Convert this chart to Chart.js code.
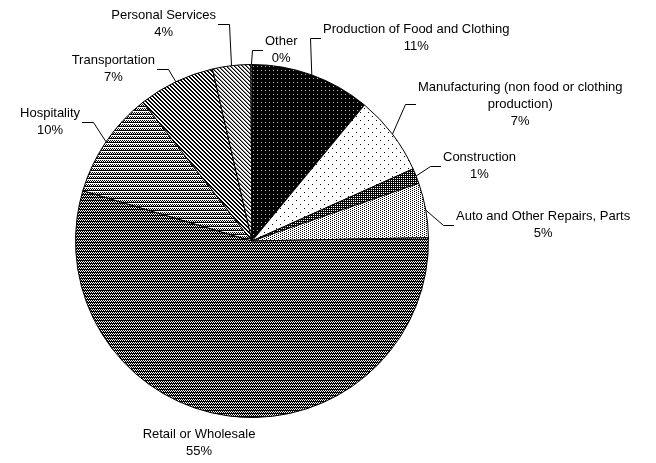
<!DOCTYPE html>
<html>
<head>
<meta charset="utf-8">
<script src="https://cdn.jsdelivr.net/npm/chart.js@4.4.0/dist/chart.umd.min.js"></script>
<style>
  html, body { margin: 0; padding: 0; background: #fff; }
  #wrap { width: 656px; height: 463px; }
</style>
</head>
<body>
<div id="wrap"><canvas id="pieChart" width="656" height="463"></canvas></div>
<script>
// Slices, clockwise from 12 o'clock
const categories = [
  "Production of Food and Clothing",
  ["Manufacturing (non food or clothing", "production)"],
  "Construction",
  "Auto and Other Repairs, Parts",
  "Retail or Wholesale",
  "Hospitality",
  "Transportation",
  "Personal Services",
  "Other",
];
const shares = [11.0, 7.3, 1.4, 5.0, 54.9, 9.8, 7.0, 3.5, 0.1];

// Fill tiles, one string per pixel row: # black, + grey, o light grey, . white
const tiles = [
  ["####", "####", "#o##", "####"],
  ["#.......", "........", "........", "........", "....#...", "........", "........", "........"],
  ["#.", "##"],
  ["#...", "..#."],
  ["#.#.", ".#.#", "####"],
  ["#.#.", ".#.#", "####", "...."],
  ["##..", ".##.", "..##", "#..#"],
  ["#+..", ".#+.", "..#+", "+..#"],
  ["#...", ".#..", "..#.", "...#"],
];

// End of each leader line: [x, y, side]; side 1 = text on the right, -1 = on the left, 0 = no leader
const labelAnchors = [
  [321, 38, 1],
  [416, 104, 1],
  [441, 166, 1],
  [454, 225, 1],
  [199, 443, 0],
  [82, 122, -1],
  [157, 69, -1],
  [218, 24, -1],
  [263, 50, 1],
];

const FONT = "13px 'Liberation Sans', Arial, sans-serif";
const LINE_H = 17;

function makePattern(rows) {
  const c = document.createElement("canvas");
  c.width = rows[0].length;
  c.height = rows.length;
  const g = c.getContext("2d");
  const shade = { "#": "#000", "+": "#808080", "o": "#bdbdbd", ".": "#fff" };
  rows.forEach((row, y) => {
    [...row].forEach((ch, x) => {
      g.fillStyle = shade[ch];
      g.fillRect(x, y, 1, 1);
    });
  });
  return g.createPattern(c, "repeat");
}

// Category name + percentage, with a leader line from the middle of the arc
const leaderLabels = {
  id: "leaderLabels",
  afterDatasetsDraw(chart) {
    const ctx = chart.ctx;
    const arcs = chart.getDatasetMeta(0).data;
    const total = shares.reduce((a, b) => a + b, 0);
    ctx.save();
    ctx.font = FONT;
    ctx.fillStyle = "#000";
    ctx.strokeStyle = "#000";
    ctx.lineWidth = 1;
    ctx.textAlign = "center";
    ctx.textBaseline = "middle";
    arcs.forEach((arc, i) => {
      const lines = [].concat(categories[i], Math.round((shares[i] / total) * 100) + "%");
      const [ex, ey, side] = labelAnchors[i];
      const w = Math.max(...lines.map((l) => ctx.measureText(l).width));
      let cx = ex;
      if (side !== 0) {
        const mid = (arc.startAngle + arc.endAngle) / 2;
        const px = arc.x + Math.cos(mid) * arc.outerRadius;
        const py = arc.y + Math.sin(mid) * arc.outerRadius;
        ctx.beginPath();
        ctx.moveTo(px, py);
        ctx.lineTo(ex - side * 11 + 0.5, ey + 0.5);
        ctx.lineTo(ex, ey + 0.5);
        ctx.stroke();
        cx = ex + side * (w / 2 + 2);
      }
      lines.forEach((l, k) => {
        ctx.fillText(l, cx, ey + (k - (lines.length - 1) / 2) * LINE_H);
      });
    });
    ctx.restore();
  },
};

const ctx = document.getElementById("pieChart").getContext("2d");
const pieChart = new Chart(ctx, {
  type: "pie",
  data: {
    labels: categories,
    datasets: [
      {
        data: shares,
        backgroundColor: tiles.map(makePattern),
        borderColor: "#000",
        borderWidth: 1,
        radius: 176.5,
      },
    ],
  },
  options: {
    responsive: false,
    animation: false,
    layout: { padding: { left: 70, right: 222, top: 60, bottom: 41 } },
    plugins: {
      legend: { display: false },
      tooltip: { enabled: false },
    },
  },
  plugins: [leaderLabels],
});
</script>
</body>
</html>
